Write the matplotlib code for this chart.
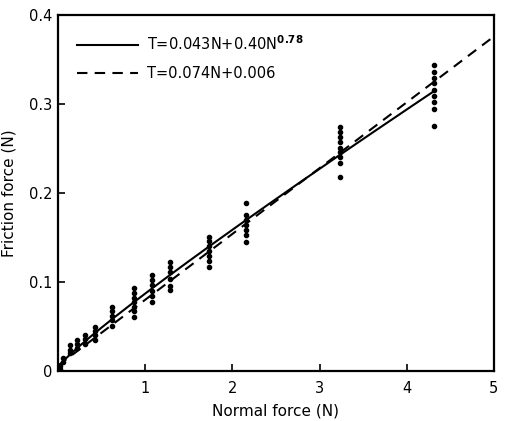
import numpy as np
import matplotlib
matplotlib.use("Agg")
import matplotlib.pyplot as plt

plt.rcParams['font.family'] = ['DejaVu Sans']

# measured normal force levels (N) and the friction readings at each
normal_levels = [0.02, 0.06, 0.14, 0.22, 0.31, 0.42, 0.62, 0.87, 1.08, 1.28, 1.73, 2.16, 3.24, 4.31]
friction_readings = [
    [0.002, 0.005],
    [0.010, 0.015],
    [0.020, 0.024, 0.029],
    [0.026, 0.030, 0.035],
    [0.030, 0.036, 0.040],
    [0.035, 0.040, 0.045, 0.049],
    [0.050, 0.057, 0.062, 0.067, 0.072],
    [0.061, 0.067, 0.072, 0.077, 0.082, 0.088, 0.093],
    [0.078, 0.084, 0.090, 0.097, 0.102, 0.108],
    [0.091, 0.096, 0.103, 0.111, 0.117, 0.122],
    [0.117, 0.124, 0.129, 0.135, 0.140, 0.146, 0.151],
    [0.145, 0.153, 0.158, 0.164, 0.170, 0.175, 0.189],
    [0.218, 0.234, 0.240, 0.246, 0.251, 0.257, 0.263, 0.269, 0.274],
    [0.275, 0.295, 0.302, 0.309, 0.316, 0.324, 0.329, 0.336, 0.344],
]

# fitted curves as given in the legend
power_a, power_b, power_exp = 0.043, 0.040, 0.78
lin_slope, lin_icpt = 0.074, 0.006
power_label = r"T=0.043N+0.40N$^{\mathbf{0.78}}$"
lin_label = "T=0.074N+0.006"

fig = plt.figure(figsize=(5.05, 4.21), dpi=100)
ax = fig.add_axes([0.115, 0.119, 0.863, 0.845])

xs, ys = [], []
for n, vals in zip(normal_levels, friction_readings):
    xs += [n] * len(vals)
    ys += vals
ax.plot(xs, ys, 'o', color='black', markersize=3.0, zorder=3)

n_pow = np.linspace(0.0, 4.31, 200)
ax.plot(n_pow, power_a * n_pow + power_b * n_pow ** power_exp + 0.004,
        color='black', lw=1.5, label=power_label)
n_lin = np.linspace(0.0, 5.0, 50)
ax.plot(n_lin, lin_slope * n_lin + lin_icpt, color='black', lw=1.5,
        ls=(0, (5, 3.5)), label=lin_label)

ax.set_xlim(0, 5)
ax.set_ylim(0, 0.4)
ax.set_xticks([1, 2, 3, 4, 5])
ax.set_yticks([0, 0.1, 0.2, 0.3, 0.4])
ax.set_yticklabels(['0', '0.1', '0.2', '0.3', '0.4'])
ax.tick_params(direction='in', length=5, width=1.2, labelsize=10.5, pad=4)
ax.tick_params(axis='x', pad=7)
for s in ax.spines.values():
    s.set_linewidth(1.6)

ax.set_xlabel("Normal force (N)", fontsize=11, labelpad=6)
ax.set_ylabel("Friction force (N)", fontsize=11)
ax.yaxis.set_label_coords(-0.095, 0.5)

ax.legend(loc='upper left', frameon=False, fontsize=10.5, handlelength=4.2,
          handletextpad=0.6, labelspacing=0.9, borderaxespad=0.9)

fig.savefig("out.png", dpi=100)
